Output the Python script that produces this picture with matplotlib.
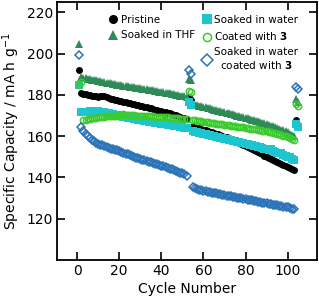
import numpy as np
import matplotlib
matplotlib.use("Agg")
import matplotlib.pyplot as plt

# Datos (capacidad especifica en mA h g-1 por ciclo)
ciclos = np.arange(1, 106)

pristine = [
    192.2,
    180.8, 180.4, 180.2, 180.0, 179.8, 179.7, 179.5, 179.3, 179.2, 179.3,
    179.5, 179.4, 178.9, 178.5, 178.2, 177.9, 177.6, 177.3, 177.1, 176.9,
    176.6, 176.4, 176.2, 176.0, 175.7, 175.5, 175.2, 175.0, 174.7, 174.5,
    174.2, 173.9, 173.7, 173.4, 173.2, 172.9, 172.6, 172.4, 172.1, 171.9,
    171.6, 171.3, 171.0, 170.7, 170.4, 170.1, 169.7, 169.4, 169.0, 168.7,
    168.4,
    179.0, 177.3,
    165.0, 164.7, 164.3, 163.9, 163.6, 163.2, 162.9, 162.5, 162.2, 161.9,
    161.5, 161.2, 160.8, 160.5, 160.1, 159.8, 159.4, 159.0, 158.6, 158.2,
    157.8, 157.3, 156.9, 156.4, 155.9, 155.4, 154.9, 154.4, 153.9, 153.4,
    152.9, 152.3, 151.8, 151.2, 150.6, 150.1, 149.5, 149.0, 148.5, 148.0,
    147.4, 146.9, 146.4, 145.9, 145.4, 144.9, 144.4, 143.9, 143.4,
    168.0, 165.5,
]

thf = [
    204.5,
    188.6, 188.3, 188.1, 187.9, 187.6, 187.4, 187.2, 187.0, 186.8, 186.6,
    186.4, 186.2, 186.0, 185.8, 185.6, 185.4, 185.2, 185.0, 184.9, 184.7,
    184.5, 184.3, 184.2, 184.0, 183.8, 183.7, 183.5, 183.3, 183.2, 183.0,
    182.8, 182.7, 182.5, 182.3, 182.2, 182.0, 181.8, 181.6, 181.5, 181.3,
    181.1, 180.9, 180.7, 180.5, 180.3, 180.1, 179.9, 179.7, 179.5, 179.3,
    179.1,
    187.8, 187.0,
    175.5, 175.2, 175.0, 174.7, 174.5, 174.2, 174.0, 173.7, 173.5, 173.2,
    172.9, 172.7, 172.4, 172.1, 171.9, 171.6, 171.3, 171.1, 170.8, 170.5,
    170.3, 170.0, 169.7, 169.5, 169.2, 168.9, 168.6, 168.3, 168.0, 167.7,
    167.4, 167.1, 166.8, 166.5, 166.2, 165.8, 165.5, 165.1, 164.8, 164.4,
    164.0, 163.6, 163.2, 162.8, 162.3, 161.8, 161.2, 160.6, 159.9,
    178.0, 176.5,
]

agua = [
    185.0,
    171.5, 171.6, 171.8, 171.9, 172.0, 172.0, 172.1, 172.1, 172.0, 171.9,
    171.8, 171.6, 171.4, 171.2, 170.9, 170.7, 170.4, 170.2, 169.9, 169.7,
    169.5, 169.3, 169.0, 168.8, 168.6, 168.4, 168.2, 168.0, 167.8, 167.6,
    167.4, 167.2, 167.0, 166.9, 166.7, 166.5, 166.4, 166.2, 166.0, 165.9,
    165.7, 165.6, 165.4, 165.2, 165.1, 164.9, 164.7, 164.5, 164.3, 164.1,
    163.9,
    176.5, 175.0,
    162.4, 162.1, 161.9, 161.6, 161.4, 161.1, 160.9, 160.6, 160.4, 160.1,
    159.9, 159.6, 159.4, 159.1, 158.9, 158.6, 158.4, 158.1, 157.9, 157.7,
    157.5, 157.2, 157.0, 156.8, 156.5, 156.3, 156.0, 155.8, 155.5, 155.3,
    155.0, 154.8, 154.5, 154.3, 154.0, 153.7, 153.5, 153.8, 152.8, 152.3,
    152.0, 151.6, 151.9, 150.9, 150.5, 150.1, 149.8, 148.9, 148.5,
    165.7, 164.5,
]

recubierto = [
    185.0, 186.3,
    167.6, 167.9, 168.2, 168.4, 168.6, 168.8, 169.0, 169.2, 169.3, 169.4,
    169.5, 169.6, 169.7, 169.8, 169.9, 169.9, 170.0, 170.1, 170.1, 170.6,
    170.2, 170.2, 170.2, 170.1, 170.1, 170.0, 170.0, 169.9, 169.9, 169.8,
    169.8, 169.7, 169.6, 169.6, 169.5, 169.4, 169.4, 169.3, 169.2, 169.1,
    169.1, 169.0, 168.9, 168.8, 168.7, 168.6, 168.5, 168.4, 168.3, 168.2,
    182.0, 181.5,
    167.8, 167.6, 167.5, 167.3, 167.2, 167.0, 166.9, 166.7, 166.6, 166.4,
    166.3, 166.1, 166.0, 165.8, 165.7, 165.5, 165.4, 165.2, 165.1, 164.9,
    164.8, 164.6, 164.5, 164.3, 164.2, 164.0, 163.9, 163.7, 163.6, 163.4,
    163.3, 163.1, 162.9, 162.7, 162.5, 162.3, 162.1, 161.9, 161.7, 161.4,
    161.1, 160.9, 160.6, 160.3, 160.0, 159.6, 159.2, 158.8, 158.3,
    175.8, 174.5,
]

agua_recubierto = [
    199.3,
    164.5, 162.6, 161.2, 160.0, 159.0, 158.2, 157.5, 156.9, 156.4, 155.9,
    155.5, 155.1, 154.7, 154.4, 154.0, 153.7, 153.4, 153.1, 152.7, 152.3,
    151.9, 151.5, 151.1, 150.7, 150.3, 150.0, 149.6, 149.3, 149.0, 148.6,
    148.3, 147.9, 147.6, 147.3, 147.0, 146.7, 146.3, 146.0, 145.7, 145.3,
    145.0, 144.6, 144.2, 143.9, 143.5, 143.1, 142.7, 142.3, 141.9, 141.4,
    140.9,
    192.3, 190.0,
    135.3, 134.8, 134.4, 134.1, 133.8, 133.5, 133.3, 133.0, 132.8, 132.6,
    132.4, 132.2, 132.0, 131.8, 131.6, 131.4, 131.2, 131.0, 130.8, 130.6,
    130.4, 130.2, 130.0, 129.8, 129.6, 129.4, 129.2, 129.0, 128.8, 128.6,
    128.4, 128.2, 128.0, 127.8, 127.6, 127.4, 127.2, 127.0, 126.8, 126.6,
    126.4, 126.2, 126.0, 125.8, 125.6, 125.4, 125.1, 124.8, 124.5,
    184.0, 183.0,
]

plt.rcParams['font.family'] = ['DejaVu Sans']
plt.rcParams['mathtext.default'] = 'regular'

fig = plt.figure(figsize=(3.19, 2.96), dpi=100)
ax = fig.add_axes([0.179, 0.122, 0.815, 0.871])

negro, = ax.plot(ciclos, pristine, 'o', color='black', ms=5.0, mew=0, label='Pristine')
verde_thf, = ax.plot(ciclos, thf, '^', color='#2E8B57', ms=5.4, mew=0, label='Soaked in THF')
cian, = ax.plot(ciclos, agua, 's', color='#1DC6CE', ms=5.2, mew=0, label='Soaked in water')
verde, = ax.plot(ciclos, recubierto, 'o', mfc='none', mec='#3CCB2E', ms=4.5, mew=1.1,
                 label='Coated with $\\mathbf{3}$')
azul, = ax.plot(ciclos, agua_recubierto, 'D', mfc='none', mec='#2B73B8', ms=4.5, mew=1.1,
                label='Soaked in water\ncoated with $\\mathbf{3}$')

ax.set_xlim(-9.5, 114)
ax.set_ylim(100, 225)
ax.set_xticks([0, 20, 40, 60, 80, 100])
ax.set_yticks([120, 140, 160, 180, 200, 220])
ax.tick_params(direction='in', length=6, width=1.2, top=True, right=True,
               labelsize=10, pad=3)
for s in ax.spines.values():
    s.set_linewidth(1.3)

ax.set_xlabel('Cycle Number', fontsize=10, labelpad=3)
ax.set_ylabel('Specific Capacity / mA h g$^{-1}$', fontsize=10, labelpad=3)

# Leyenda en dos columnas separadas
ley1 = ax.legend(handles=[negro, verde_thf], loc='upper left', bbox_to_anchor=(0.2, 0.95),
                 frameon=False, fontsize=7.5, handlelength=0.8, handletextpad=0.3,
                 labelspacing=0.5, borderpad=0, borderaxespad=0, markerscale=1.3)
ax.add_artist(ley1)
ley2 = ax.legend(handles=[cian, verde, azul], loc='upper left', bbox_to_anchor=(0.56, 0.95),
                 frameon=False, fontsize=7.5, handlelength=0.8, handletextpad=0.3,
                 labelspacing=0.5, borderpad=0, borderaxespad=0, markerscale=1.3)
for t in ley2.get_texts():
    t.set_multialignment('center')

fig.savefig('out.png', dpi=100)
